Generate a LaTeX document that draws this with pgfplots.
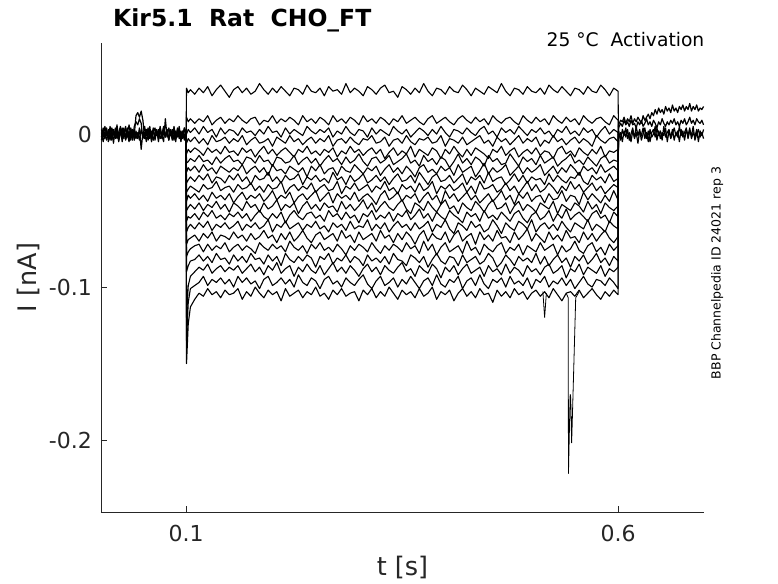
\documentclass[border=0pt]{standalone}
\usepackage{fontspec}
\setmainfont{DejaVu Sans}
\usepackage{pgfplots}
\usepackage{pgfplotstable}
\pgfplotsset{compat=1.18}
\definecolor{axgray}{RGB}{38,38,38}

% current in pA, time in ms
\pgfplotstableread{
t c1 c2 c3 c4 c5 c6 c7 c8 c9 c10 c11 c12 c13 c14 c15 c16 c17 c18 c19
100 1 -2 0 3 -1 2 -3 0 1 -2 2 -1 0 3 -2 1 -1 2 0
100.5 30 11 0 -6 -13 -19 -25 -32 -38 -44 -50 -57 -64 -72 -80 -90 -120 -135 -150
102.5 27 8 3 -3 -10 -18 -22 -30 -36 -40 -48 -54 -61 -69 -77 -86 -99 -110 -124
105 29 10 1 -5 -12 -16 -24 -28 -34 -42 -46 -55 -59 -68 -75 -83 -93 -101 -113
110 26 7 4 -2 -9 -18 -21 -31 -36 -39 -49 -52 -62 -66 -73 -82 -90 -99 -108
115 30 10 0 -6 -11 -14 -25 -27 -38 -43 -45 -56 -58 -70 -72 -79 -87 -97 -104
120 27 8 5 -3 -14 -18 -20 -30 -33 -40 -50 -51 -61 -65 -77 -83 -89 -93 -106
125 31 12 1 -7 -9 -17 -24 -26 -36 -44 -46 -54 -57 -68 -72 -80 -85 -99 -101
130 25 6 3 -1 -12 -20 -22 -32 -35 -38 -48 -50 -63 -64 -76 -84 -91 -95 -105
135 29 9 -2 -5 -10 -15 -26 -28 -31 -42 -44 -55 -59 -70 -73 -78 -88 -97 -103
140 32 11 4 -4 -13 -19 -21 -29 -37 -40 -49 -53 -61 -66 -75 -82 -86 -94 -107
145 28 7 0 -2 -8 -16 -23 -32 -35 -43 -46 -56 -58 -67 -71 -81 -90 -98 -102
150 24 10 3 -6 -12 -14 -25 -27 -34 -39 -51 -52 -62 -69 -77 -85 -87 -95 -105
155 29 8 2 -3 -11 -18 -22 -30 -38 -45 -45 -54 -60 -64 -74 -79 -89 -100 -104
160 31 12 -1 -5 -14 -17 -24 -26 -33 -41 -47 -51 -57 -68 -72 -83 -86 -93 -101
165 27 9 4 -1 -9 -20 -20 -31 -36 -38 -50 -55 -63 -66 -76 -80 -91 -97 -108
170 30 7 1 -7 -12 -15 -26 -28 -35 -43 -44 -52 -59 -70 -73 -84 -88 -94 -103
175 26 10 2 -4 -10 -16 -23 -33 -32 -40 -48 -57 -61 -65 -75 -78 -85 -98 -106
180 28 11 -1 -2 -15 -19 -21 -27 -37 -42 -46 -53 -58 -69 -78 -82 -90 -96 -100
185 33 6 3 -6 -11 -14 -25 -30 -34 -39 -51 -50 -62 -67 -71 -81 -87 -101 -104
190 29 9 0 -5 -8 -18 -22 -29 -38 -44 -45 -54 -60 -63 -74 -85 -92 -95 -107
195 26 8 5 -3 -13 -17 -27 -25 -33 -41 -49 -56 -56 -68 -76 -79 -86 -93 -102
200 30 12 1 -8 -10 -21 -20 -31 -36 -37 -47 -52 -64 -66 -72 -83 -89 -99 -105
205 27 7 2 -2 -14 -15 -24 -28 -35 -43 -43 -55 -59 -71 -75 -80 -84 -97 -103
210 31 10 -2 -4 -11 -16 -23 -32 -31 -40 -50 -51 -61 -65 -73 -86 -91 -94 -109
215 28 8 4 -6 -9 -19 -26 -27 -39 -42 -46 -58 -57 -69 -77 -78 -88 -98 -101
220 25 11 0 -1 -12 -18 -21 -30 -35 -38 -48 -53 -62 -64 -70 -82 -86 -95 -106
225 30 9 3 -5 -15 -14 -23 -29 -33 -45 -45 -50 -60 -70 -74 -84 -93 -100 -104
230 29 6 1 -3 -10 -20 -25 -26 -37 -41 -52 -54 -58 -67 -76 -80 -87 -92 -102
235 26 12 -1 -7 -12 -17 -22 -33 -34 -39 -47 -56 -63 -63 -73 -83 -90 -97 -107
240 32 8 5 -4 -8 -15 -28 -28 -36 -43 -44 -52 -59 -68 -78 -79 -85 -99 -103
245 28 10 2 -2 -13 -19 -21 -30 -32 -40 -49 -51 -61 -71 -72 -81 -89 -94 -105
250 27 7 0 -6 -11 -16 -24 -27 -38 -37 -46 -55 -57 -66 -75 -87 -91 -96 -100
255 30 11 3 -3 -14 -21 -20 -31 -35 -44 -50 -53 -62 -64 -71 -80 -86 -101 -106
260 25 9 1 -5 -10 -17 -26 -29 -33 -41 -45 -57 -60 -69 -76 -82 -92 -95 -104
265 31 6 4 -1 -12 -14 -23 -32 -37 -38 -48 -50 -64 -67 -74 -78 -88 -93 -108
270 28 12 -2 -8 -9 -18 -22 -25 -36 -45 -47 -54 -58 -65 -77 -85 -84 -98 -102
275 29 8 2 -4 -15 -16 -27 -30 -31 -39 -51 -52 -61 -70 -72 -81 -90 -96 -105
280 26 10 0 -3 -11 -20 -21 -28 -39 -42 -44 -56 -59 -63 -75 -83 -87 -100 -101
285 33 7 5 -6 -13 -15 -24 -33 -34 -40 -49 -51 -63 -68 -79 -79 -91 -94 -106
290 27 11 1 -2 -8 -19 -25 -27 -36 -43 -46 -55 -57 -66 -73 -84 -86 -97 -104
295 30 9 -1 -5 -12 -17 -20 -31 -32 -38 -50 -53 -62 -71 -76 -80 -89 -99 -103
300 28 6 3 -7 -10 -13 -23 -29 -37 -44 -47 -58 -60 -64 -72 -82 -93 -95 -109
305 25 12 2 -3 -14 -18 -26 -26 -35 -41 -43 -52 -61 -69 -74 -86 -88 -92 -102
310 31 8 -2 -4 -11 -21 -22 -32 -33 -39 -49 -54 -56 -67 -77 -79 -85 -98 -105
315 29 10 4 -1 -9 -16 -24 -30 -38 -42 -45 -50 -63 -65 -71 -83 -90 -101 -101
320 26 7 0 -6 -13 -15 -21 -27 -34 -46 -51 -56 -59 -70 -75 -81 -87 -96 -107
325 30 11 3 -5 -10 -19 -27 -31 -36 -40 -47 -53 -62 -63 -78 -84 -92 -93 -103
330 32 9 1 -2 -16 -17 -23 -28 -31 -37 -44 -55 -58 -68 -73 -80 -86 -99 -106
335 27 6 -1 -8 -12 -14 -20 -33 -37 -43 -48 -51 -64 -66 -76 -85 -89 -97 -100
340 28 10 5 -4 -9 -20 -25 -29 -35 -41 -50 -57 -60 -71 -72 -78 -91 -94 -104
345 24 8 2 -3 -14 -18 -22 -26 -39 -38 -46 -52 -57 -65 -74 -82 -87 -100 -108
350 31 12 0 -6 -11 -16 -26 -31 -33 -44 -43 -54 -61 -69 -77 -83 -84 -95 -102
355 29 7 3 -1 -13 -13 -21 -30 -36 -40 -49 -50 -59 -64 -71 -86 -90 -98 -105
360 26 9 -2 -5 -8 -19 -24 -27 -34 -42 -52 -56 -63 -67 -75 -79 -88 -93 -103
365 30 11 1 -7 -15 -17 -28 -32 -38 -39 -45 -53 -58 -72 -73 -81 -93 -97 -107
370 27 8 4 -3 -10 -21 -22 -25 -32 -45 -47 -49 -62 -66 -78 -84 -86 -101 -101
375 33 6 2 -4 -12 -14 -20 -29 -37 -41 -50 -55 -60 -63 -70 -80 -89 -96 -106
380 28 10 -1 -2 -14 -18 -25 -33 -35 -38 -44 -52 -57 -70 -76 -87 -91 -94 -104
385 25 12 3 -6 -9 -16 -23 -28 -31 -43 -48 -57 -64 -65 -72 -82 -85 -99 -100
390 30 7 0 -5 -11 -20 -26 -26 -39 -40 -51 -51 -59 -68 -79 -78 -88 -92 -108
395 29 9 5 -1 -16 -15 -21 -31 -34 -46 -46 -54 -61 -69 -74 -83 -94 -98 -103
400 26 11 1 -8 -10 -17 -24 -30 -36 -37 -43 -56 -56 -64 -71 -85 -87 -100 -105
405 31 8 -2 -3 -13 -22 -22 -27 -33 -42 -49 -50 -62 -71 -77 -80 -90 -95 -102
410 28 6 3 -4 -8 -18 -27 -32 -37 -39 -47 -53 -65 -66 -75 -81 -86 -97 -109
415 27 10 2 -6 -12 -13 -20 -29 -35 -44 -52 -55 -58 -63 -73 -86 -92 -93 -104
420 32 12 0 -2 -15 -19 -25 -26 -32 -41 -45 -58 -60 -70 -78 -79 -88 -101 -101
425 29 9 4 -7 -10 -16 -23 -33 -38 -38 -48 -51 -63 -67 -70 -84 -85 -96 -106
430 25 7 1 -5 -14 -20 -21 -28 -34 -43 -50 -54 -57 -65 -76 -82 -91 -94 -103
435 30 11 -1 -3 -9 -15 -28 -30 -39 -40 -44 -52 -61 -72 -74 -80 -89 -99 -107
440 28 8 3 -1 -11 -17 -24 -27 -31 -45 -47 -57 -59 -64 -79 -85 -87 -92 -101
445 26 10 5 -6 -13 -21 -19 -32 -36 -42 -51 -50 -64 -69 -72 -83 -93 -98 -105
450 31 6 0 -4 -16 -14 -26 -25 -35 -39 -46 -55 -62 -66 -75 -78 -86 -101 -104
455 29 12 2 -8 -10 -18 -22 -31 -33 -44 -43 -53 -56 -70 -77 -81 -90 -95 -110
460 27 9 -2 -2 -12 -16 -25 -29 -38 -41 -49 -56 -60 -63 -73 -87 -88 -97 -102
465 33 7 4 -5 -8 -20 -23 -28 -36 -37 -48 -51 -65 -68 -71 -84 -92 -94 -106
470 28 10 1 -3 -14 -19 -20 -33 -32 -43 -45 -54 -58 -67 -78 -79 -85 -100 -103
475 25 11 3 -7 -11 -13 -27 -30 -37 -40 -52 -57 -61 -71 -74 -82 -91 -93 -107
480 30 8 0 -4 -9 -17 -24 -26 -34 -46 -47 -52 -63 -64 -76 -86 -87 -98 -101
485 29 6 5 -1 -15 -21 -21 -31 -39 -39 -44 -50 -57 -69 -72 -80 -89 -96 -105
490 26 12 2 -6 -12 -15 -26 -27 -35 -42 -50 -55 -59 -66 -79 -83 -93 -99 -103
495 31 9 -1 -3 -10 -18 -22 -32 -31 -38 -46 -58 -62 -62 -73 -81 -86 -94 -108
500 28 7 3 -5 -13 -16 -25 -28 -37 -44 -48 -53 -56 -70 -75 -84 -90 -101 -104
505 27 11 1 -2 -9 -20 -23 -30 -33 -41 -51 -51 -64 -65 -77 -78 -88 -95 -102
510 30 8 4 -8 -14 -14 -20 -29 -38 -40 -45 -56 -60 -68 -71 -85 -92 -97 -106
515 26 10 0 -4 -11 -19 -27 -33 -36 -45 -47 -54 -58 -71 -76 -80 -87 -93 -103
520 32 6 2 -6 -12 -17 -24 -26 -32 -39 -49 -50 -62 -64 -74 -86 -85 -100 -107
525 29 12 -2 -1 -16 -15 -21 -31 -35 -43 -44 -57 -59 -69 -72 -82 -91 -96 -101
530 27 9 3 -5 -10 -21 -26 -27 -39 -42 -52 -52 -63 -66 -79 -79 -89 -98 -105
535 31 7 1 -3 -8 -18 -22 -30 -34 -37 -46 -55 -57 -70 -73 -84 -86 -94 -109
540 28 11 5 -7 -13 -16 -25 -32 -37 -44 -48 -49 -61 -63 -77 -81 -94 -99 -104
545 25 8 0 -4 -11 -13 -20 -28 -31 -40 -50 -56 -64 -68 -75 -87 -88 -95 -103
550 30 10 2 -2 -15 -19 -23 -29 -36 -41 -45 -53 -58 -67 -70 -80 -90 -101 -106
555 29 6 -1 -6 -9 -17 -27 -25 -33 -46 -47 -51 -60 -71 -76 -83 -85 -97 -102
560 26 12 4 -3 -12 -20 -21 -31 -38 -38 -51 -54 -62 -64 -78 -79 -92 -93 -107
565 31 9 1 -5 -14 -15 -24 -33 -35 -43 -44 -57 -56 -69 -73 -85 -87 -98 -104
570 28 7 3 -8 -10 -18 -22 -27 -32 -39 -49 -52 -63 -65 -71 -82 -89 -100 -101
575 27 10 -2 -1 -13 -21 -26 -30 -37 -42 -46 -50 -59 -70 -77 -78 -91 -95 -105
580 32 11 2 -4 -8 -16 -20 -28 -34 -45 -52 -55 -61 -66 -74 -84 -86 -96 -108
585 29 8 5 -6 -15 -14 -25 -32 -39 -40 -45 -53 -64 -63 -79 -81 -93 -99 -103
590 25 6 0 -3 -11 -19 -23 -26 -36 -44 -48 -58 -57 -68 -72 -86 -88 -94 -106
595 30 12 3 -2 -12 -17 -21 -31 -33 -37 -50 -51 -60 -71 -76 -80 -90 -97 -102
600 28 9 1 -5 -10 -18 -24 -29 -35 -43 -47 -54 -62 -67 -73 -83 -87 -101 -105
600.5 3 1 -2 5 0 -4 2 -1 6 -3 1 -6 4 0 -2 3 -5 2 -1
}\steptable

\pgfplotstableread{
t b1 b2 b3 b4
2 3 -4 1 -2
4 -2 2 -5 4
6 5 -3 0 -1
8 -1 4 -4 2
10 2 -5 3 -3
12 -4 1 -2 5
14 4 -2 2 -4
16 0 3 -6 1
18 -3 -1 4 -2
20 6 2 -3 3
22 -2 -4 1 -5
24 3 0 5 2
26 -5 4 -2 -1
28 1 -3 3 4
30 -1 5 -4 -3
32 4 -2 0 1
34 -3 2 -5 6
36 2 -4 4 -2
38 -4 3 -1 3
40 5 -1 2 -4
42 8 12 -3 2
44 6 14 1 -3
46 10 11 -4 4
48 7 15 3 -10
50 -3 9 -2 1
52 1 -2 5 -3
54 -5 3 -1 2
56 3 -4 4 -1
58 0 2 -3 5
60 -2 -5 2 -4
62 4 1 -4 3
64 -4 4 0 -2
66 2 -1 3 1
68 -1 3 -5 -3
70 5 -3 2 4
72 -3 0 -2 -1
74 1 5 4 -5
76 -2 -2 -1 10
78 3 1 3 -2
80 -4 -4 -3 4
82 2 3 1 -1
84 -1 -1 -4 3
86 4 2 5 -4
88 -3 -5 -2 2
90 0 4 3 -2
92 3 -2 -3 5
94 -5 1 2 -3
96 2 -3 -1 1
98 -1 4 4 -4
100 1 -2 0 3
}\basetable

\pgfplotstableread{
t p1 p2 p3 p4
600.5 2 -3 4 6
603 -4 1 7 9
605 3 -5 5 8
607 -1 2 9 11
609 4 -2 6 7
611 -3 3 8 10
613 1 -4 5 8
615 -5 0 9 12
617 2 4 6 7
619 -2 -3 7 10
621 5 1 4 8
623 -1 -6 8 11
625 3 2 6 9
627 -4 -1 9 7
629 0 4 5 12
631 4 -3 7 9
633 -3 1 10 11
635 2 -5 6 13
637 -5 3 8 10
639 1 -2 5 14
641 3 0 9 12
643 -2 5 7 16
645 4 -4 4 13
647 -1 2 8 17
649 2 -3 6 14
651 -4 1 10 16
653 5 -1 7 13
655 -2 4 5 18
657 1 -5 8 15
659 3 2 6 17
661 -3 -2 9 14
663 0 3 7 19
665 4 -4 10 15
667 -1 1 6 17
669 2 -2 8 14
671 -5 5 5 18
673 3 -1 9 16
675 -2 2 7 19
677 1 -4 10 15
679 4 3 6 18
681 -3 -1 8 16
683 2 4 11 20
685 -1 -3 7 15
687 5 1 9 18
689 -4 -2 6 16
691 0 3 10 19
693 3 -5 8 15
695 -2 2 7 17
697 1 -1 9 16
699 -3 3 6 18
}\posttable

\begin{document}
\begin{tikzpicture}
\useasboundingbox (-101pt,-71pt) rectangle (677pt,512pt);
\begin{axis}[
  at={(0pt,0pt)}, anchor=south west,
  scale only axis, width=603pt, height=469pt,
  xmin=1.5, xmax=699.5, ymin=-247, ymax=59.5,
  axis lines*=left,
  xtick pos=left, ytick pos=left,
  axis line style={axgray, line width=0.5pt, -},
  every outer x axis line/.append style={-},
  every outer y axis line/.append style={-},
  xtick={100,600}, xticklabels={0.1,0.6},
  ytick={-200,-100,0}, yticklabels={-0.2,-0.1,0},
  tick align=inside, major tick length=6pt,
  tick style={axgray, line width=0.5pt},
  tick label style={font=\fontsize{22}{26}\selectfont, text=axgray, inner sep=0pt},
  xticklabel style={yshift=-12.5pt},
  yticklabel style={xshift=-9pt},
]
\pgfplotsinvokeforeach{1,...,4}{
  \addplot[black, line width=1.2pt, mark=none, line join=round] table[x=t,y=b#1]{\basetable};
}
\pgfplotsinvokeforeach{1,...,19}{
  \addplot[black, line width=1.1pt, mark=none, line join=round] table[x=t,y=c#1]{\steptable};
}
\pgfplotsinvokeforeach{1,...,4}{
  \addplot[black, line width=1.2pt, mark=none, line join=round] table[x=t,y=p#1]{\posttable};
}
% brief events in the lowest sweeps
\addplot[black, line width=0.8pt, mark=none] coordinates {(513,-103) (515,-120) (517,-104)};
\addplot[black, line width=0.8pt, mark=none] coordinates {(540,-104) (542.3,-107) (542.6,-222) (544.6,-170) (545.2,-172) (546.3,-202) (551,-107) (555,-103)};
\end{axis}
\node[anchor=base west, inner sep=0pt, font=\bfseries\fontsize{23.5}{28}\selectfont] at (12pt,485.5pt) {Kir5.1\ \ Rat\ \ CHO\_FT};
\node[anchor=base east, inner sep=0pt, font=\fontsize{18.7}{22}\selectfont] at (603.5pt,465.5pt) {25 °C\ \ Activation};
\node[anchor=base, rotate=90, inner sep=0pt, font=\fontsize{12.5}{15}\selectfont] at (619.5pt,239pt) {BBP Channelpedia ID 24021 rep 3};
\node[anchor=base, rotate=90, inner sep=0pt, text=axgray, font=\fontsize{25.5}{30}\selectfont] at (-64.5pt,234.5pt) {I [nA]};
\node[anchor=base, inner sep=0pt, text=axgray, font=\fontsize{25.5}{30}\selectfont] at (301.5pt,-63pt) {t [s]};
\end{tikzpicture}
\end{document}
